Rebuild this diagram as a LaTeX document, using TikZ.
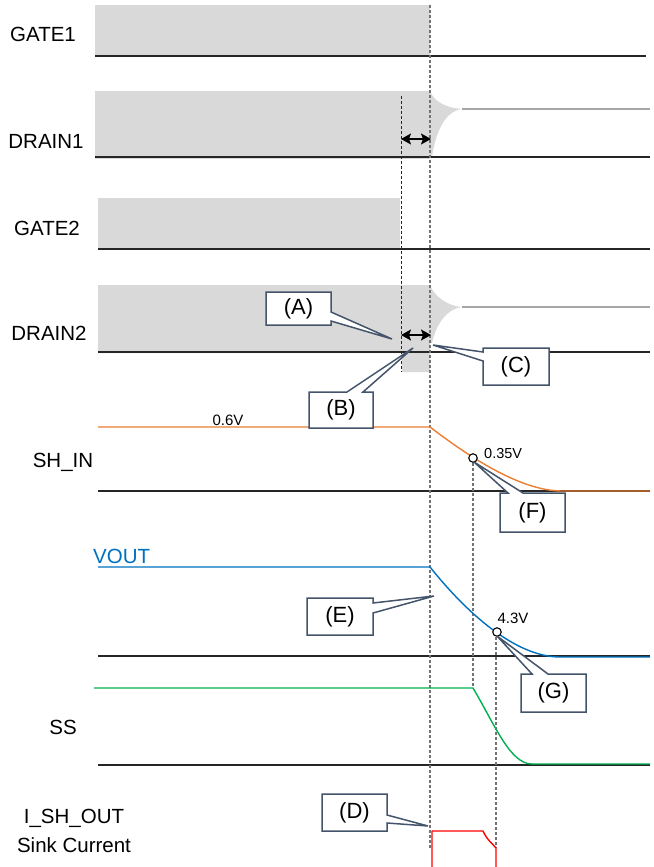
\documentclass[tikz,border=0pt]{standalone}
\usepackage{fontspec}
\setmainfont{Liberation Sans}
\usetikzlibrary{arrows.meta}
\definecolor{fillgray}{HTML}{D9D9D9}
\definecolor{cuspgray}{HTML}{A6A6A6}
\definecolor{callcol}{HTML}{44546A}
\definecolor{sigorange}{HTML}{ED7D31}
\definecolor{sigblue}{HTML}{0070C0}
\definecolor{siggreen}{HTML}{00B050}
\definecolor{sigred}{HTML}{FF0000}
\tikzset{
  grayarea/.style={fill=fillgray, draw=none},
  baseln/.style={draw=black!85, line width=1.1pt},
  cuspln/.style={draw=cuspgray, line width=1.3pt},
  mainguide/.style={draw=black!55, line width=1.1pt, dash pattern=on 3pt off 2pt},
  thinguide/.style={draw=black!85, line width=0.8pt, dash pattern=on 3pt off 2pt},
  siglabel/.style={inner sep=0pt, font=\fontsize{20.5}{24}\selectfont},
  vallabel/.style={inner sep=0pt, font=\fontsize{15}{18}\selectfont},
  callbox/.style={fill=white, draw=callcol, line width=1.5pt, line join=miter},
  calltext/.style={inner sep=0pt, font=\fontsize{22}{26}\selectfont},
  dimarrow/.style={draw=black, line width=1.6pt, {Stealth[length=10pt,width=11pt,inset=2pt]}-{Stealth[length=10pt,width=11pt,inset=2pt]}},
  marker/.style={circle, draw=black, fill=white, line width=1.1pt, inner sep=0pt, minimum size=8.5pt},
  sig/.style={line width=1.4pt, line join=round}
}
\begin{document}
\begin{tikzpicture}[x=1pt,y=-1pt]
\useasboundingbox (0,0) rectangle (653,867);

% ---------- gray areas ----------
\fill[grayarea] (95,5) rectangle (430,56);
\fill[grayarea] (95,91) rectangle (430,159);
\fill[grayarea] (430,91) .. controls (434,102) and (447,108) .. (462,109)
   .. controls (446,111) and (436,130) .. (432,157) -- (430,157) -- cycle;
\fill[grayarea] (98,198) rectangle (400,249);
\fill[grayarea] (98,285) -- (430,285) -- (430,372) -- (402,372) -- (402,353) -- (98,353) -- cycle;
\fill[grayarea] (430,285) .. controls (434,296) and (447,306) .. (462,307)
   .. controls (446,309) and (436,325) .. (432,343) -- (430,343) -- cycle;

% ---------- baselines ----------
\draw[baseln] (95,56) -- (646,56);
\draw[cuspln] (462,109) -- (650,109);
\draw[baseln] (95,157) -- (650,157);
\draw[baseln] (98,249) -- (650,249);
\draw[cuspln] (462,307) -- (650,307);
\draw[baseln] (98,352) -- (650,352);
\draw[baseln] (98,491) -- (650,491);
\draw[baseln] (98,656) -- (650,656);
\draw[baseln] (98,765) -- (650,765);

% ---------- signal labels ----------
\node[siglabel] (gate1) at (43,34) {GATE1};
\node[siglabel] (drain1) at (46,141) {DRAIN1};
\node[siglabel] (gate2) at (47,228) {GATE2};
\node[siglabel] (drain2) at (49,333) {DRAIN2};
\node[siglabel] (shin) at (63,462) {SH\_IN};
\node[siglabel, text=sigblue, anchor=west] (vout) at (93,556) {VOUT};
\node[siglabel] (ss) at (63,727) {SS};
\node[siglabel] (ishout) at (74,818) {I\_SH\_OUT};
\node[siglabel] (sink) at (74,845) {Sink Current};

% ---------- guide lines ----------
\draw[mainguide] (430,5) -- (430,848);
\draw[thinguide] (401,96) -- (401,372);
\draw[mainguide] (473,458) -- (473,688);
\draw[mainguide] (496,632) -- (496,848);

% ---------- dimension arrows ----------
\coordinate (d1l) at (401,139);
\coordinate (d1r) at (431,139);
\coordinate (d2l) at (401,335);
\coordinate (d2r) at (431,335);
\draw[dimarrow] (d1l) -- (d1r);
\draw[dimarrow] (d2l) -- (d2r);

% ---------- signals ----------
\draw[sig, sigorange] (98,427) -- (430,427)
   .. controls (468,456) and (520,491) .. (562,491) -- (650,491);
\draw[sig, sigblue] (98,567) -- (430,567)
   .. controls (466,612) and (515,657) .. (560,657) -- (650,657);
\draw[sig, siggreen] (94,688) -- (473,688)
   .. controls (495,725) and (510,764) .. (532,764) -- (650,764);
\draw[sig, sigred] (432,867) -- (432,831) -- (483,831)
   .. controls (487,840) and (492,843) .. (496,848) -- (496,867);

% ---------- value labels & markers ----------
\node[vallabel] (v06) at (228,420) {0.6V};
\node[marker] (mF) at (473,458) {};
\node[vallabel, anchor=west, font=\fontsize{14.5}{17}\selectfont] (v035) at (484,454) {0.35V};
\node[marker] (mG) at (497,632) {};
\node[vallabel] (v43) at (513,618) {4.3V};

% ---------- callouts ----------
\draw[callbox] (266,292) -- (331,292) -- (331,312) -- (392,339) -- (331,321) -- (331,325) -- (266,325) -- cycle;
\node[calltext] (cA) at (298.5,308.5) {(A)};
\draw[callbox] (309,392) -- (347,392) -- (413,348) -- (363,392) -- (373,392) -- (373,428) -- (309,428) -- cycle;
\node[calltext] (cB) at (341,410) {(B)};
\draw[callbox] (483,348) -- (549,348) -- (549,385) -- (483,385) -- (483,361) -- (433,345) -- (483,352) -- cycle;
\node[calltext] (cC) at (516,366.5) {(C)};
\draw[callbox] (322,794) -- (387,794) -- (387,815) -- (428,826) -- (387,823) -- (387,831) -- (322,831) -- cycle;
\node[calltext] (cD) at (354.5,812.5) {(D)};
\draw[callbox] (307,598) -- (373,598) -- (373,603) -- (434,596) -- (373,613) -- (373,635) -- (307,635) -- cycle;
\node[calltext] (cE) at (340,616.5) {(E)};
\draw[callbox] (500,493) -- (508,493) -- (474,462) -- (523,493) -- (565,493) -- (565,532) -- (500,532) -- cycle;
\node[calltext] (cF) at (532.5,512.5) {(F)};
\draw[callbox] (521,674) -- (532,674) -- (497,636) -- (548,674) -- (586,674) -- (586,712) -- (521,712) -- cycle;
\node[calltext] (cG) at (553.5,693) {(G)};
\end{tikzpicture}
\end{document}
